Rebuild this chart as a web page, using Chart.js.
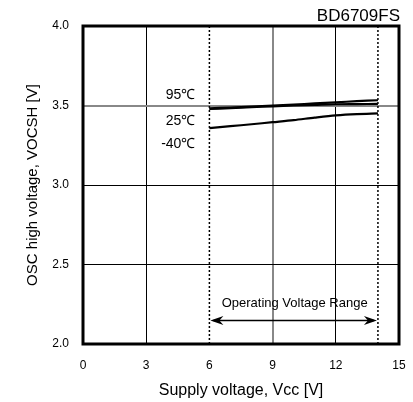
<!DOCTYPE html>
<html>
<head>
<meta charset="utf-8">
<script src="https://cdn.jsdelivr.net/npm/chart.js@4.4.0/dist/chart.umd.min.js"></script>
<style>
  html, body { margin: 0; padding: 0; background: #fff; }
  #wrap { width: 413px; height: 402px; }
</style>
</head>
<body>
<div id="wrap"><canvas id="chart" width="413" height="402"></canvas></div>
<script>
// supply voltage points (V)
const vcc = [6, 7, 8, 9, 10, 11, 12, 13, 14];
// OSC high voltage (V) per temperature
const osc95 = [3.482, 3.487, 3.493, 3.499, 3.506, 3.513, 3.520, 3.527, 3.533];
const osc25 = [3.478, 3.483, 3.489, 3.495, 3.500, 3.504, 3.508, 3.509, 3.510];
const oscM40 = [3.358, 3.370, 3.382, 3.395, 3.408, 3.424, 3.438, 3.446, 3.450];
const tempLabels = ['95℃', '25℃', '-40℃'];

const xTicks = [0, 3, 6, 9, 12, 15];
const yTicks = [2.0, 2.5, 3.0, 3.5, 4.0];
const opRange = [6, 14];
const opLevel = 2.15;

const FONT = "Arial, 'Liberation Sans', sans-serif";

const pts = (ys) => vcc.map((v, i) => ({ x: v, y: ys[i] }));

const darkX = [3, 12];
const darkY = [2.5, 3.0];

// frame, temp labels, arrow and title
const decor = {
    id: 'decor',
    afterDatasetsDraw(chart) {
        const { ctx, chartArea: a, scales: { x, y } } = chart;
        ctx.save();

        ctx.strokeStyle = '#000';
        ctx.lineWidth = 3;
        ctx.strokeRect(a.left, a.top, a.right - a.left, a.bottom - a.top);

        // temperature labels
        ctx.fillStyle = '#000';
        ctx.font = '14px ' + FONT;
        ctx.textAlign = 'right';
        ctx.textBaseline = 'middle';
        const tx = x.getPixelForValue(opRange[0]) - 14;
        ctx.fillText(tempLabels[0], tx, 95);
        ctx.fillText(tempLabels[1], tx, 121);
        ctx.fillText(tempLabels[2], tx, 144);

        // operating range arrow
        const x1 = x.getPixelForValue(opRange[0]);
        const x2 = x.getPixelForValue(opRange[1]);
        const ay = Math.round(y.getPixelForValue(opLevel)) + 0.5;
        ctx.lineWidth = 1.5;
        ctx.beginPath();
        ctx.moveTo(x1 + 4, ay);
        ctx.lineTo(x2 - 4, ay);
        ctx.stroke();
        const head = (px, dir) => {
            ctx.beginPath();
            ctx.moveTo(px, ay);
            ctx.lineTo(px + dir * 13, ay - 4.5);
            ctx.lineTo(px + dir * 9, ay);
            ctx.lineTo(px + dir * 13, ay + 4.5);
            ctx.closePath();
            ctx.fill();
        };
        head(x1 + 1, 1);
        head(x2 - 1, -1);

        ctx.font = '13px ' + FONT;
        ctx.textAlign = 'center';
        ctx.fillText('Operating Voltage Range', (x1 + x2) / 2 + 1, ay - 17);

        // part name
        ctx.font = '17px ' + FONT;
        ctx.textAlign = 'right';
        ctx.textBaseline = 'alphabetic';
        ctx.fillText('BD6709FS', a.right + 1, 21);

        ctx.restore();
    }
};

const line = (data, w) => ({
    data: data,
    showLine: true,
    borderColor: '#000',
    borderWidth: w,
    pointRadius: 0,
    tension: 0.3,
    fill: false
});

const dotted = (v) => ({
    data: [{ x: v, y: yTicks[0] }, { x: v, y: yTicks[yTicks.length - 1] }],
    showLine: true,
    borderColor: '#000',
    borderWidth: 1.5,
    borderDash: [2, 2],
    pointRadius: 0
});

new Chart(document.getElementById('chart'), {
    type: 'scatter',
    data: {
        datasets: [
            line(pts(osc95), 2.2),
            line(pts(osc25), 2.2),
            line(pts(oscM40), 2.2),
            dotted(opRange[0]),
            dotted(opRange[1])
        ]
    },
    options: {
        responsive: false,
        animation: false,
        events: [],
        layout: { padding: { top: 26, right: 14, left: 0, bottom: 0 } },
        plugins: { legend: { display: false }, tooltip: { enabled: false } },
        scales: {
            x: {
                type: 'linear',
                min: xTicks[0],
                max: xTicks[xTicks.length - 1],
                afterBuildTicks: (s) => { s.ticks = xTicks.map(v => ({ value: v })); },
                afterFit: (s) => { s.height = 58; s.paddingRight = 0; s.paddingLeft = 0; },
                border: { display: false },
                grid: {
                    drawTicks: false,
                    lineWidth: (c) => darkX.includes(c.tick.value) ? 1 : 2,
                    color: (c) => {
                        const v = c.tick.value;
                        if (darkX.includes(v)) return '#000';
                        if (v === 9) return '#888';
                        return 'rgba(0,0,0,0)';
                    }
                },
                ticks: {
                    padding: 14,
                    color: '#000',
                    font: { family: FONT, size: 12 }
                },
                title: {
                    display: true,
                    text: 'Supply voltage, Vcc [V]',
                    color: '#000',
                    font: { family: FONT, size: 16 },
                    padding: { top: 0, bottom: 2 }
                }
            },
            y: {
                type: 'linear',
                min: yTicks[0],
                max: yTicks[yTicks.length - 1],
                afterBuildTicks: (s) => { s.ticks = yTicks.map(v => ({ value: v })); },
                afterFit: (s) => { s.width = 83; },
                border: { display: false },
                grid: {
                    drawTicks: false,
                    lineWidth: (c) => darkY.includes(c.tick.value) ? 1 : 2,
                    color: (c) => {
                        const v = c.tick.value;
                        if (darkY.includes(v)) return '#000';
                        if (v === 3.5) return '#888';
                        return 'rgba(0,0,0,0)';
                    }
                },
                ticks: {
                    padding: 14,
                    color: '#000',
                    font: { family: FONT, size: 12 },
                    callback: (v) => Number(v).toFixed(1)
                },
                title: {
                    display: true,
                    text: 'OSC high voltage, VOCSH [V]',
                    color: '#000',
                    font: { family: FONT, size: 15 },
                    padding: { top: 24, bottom: 0 }
                }
            }
        }
    },
    plugins: [decor]
});
</script>
</body>
</html>
